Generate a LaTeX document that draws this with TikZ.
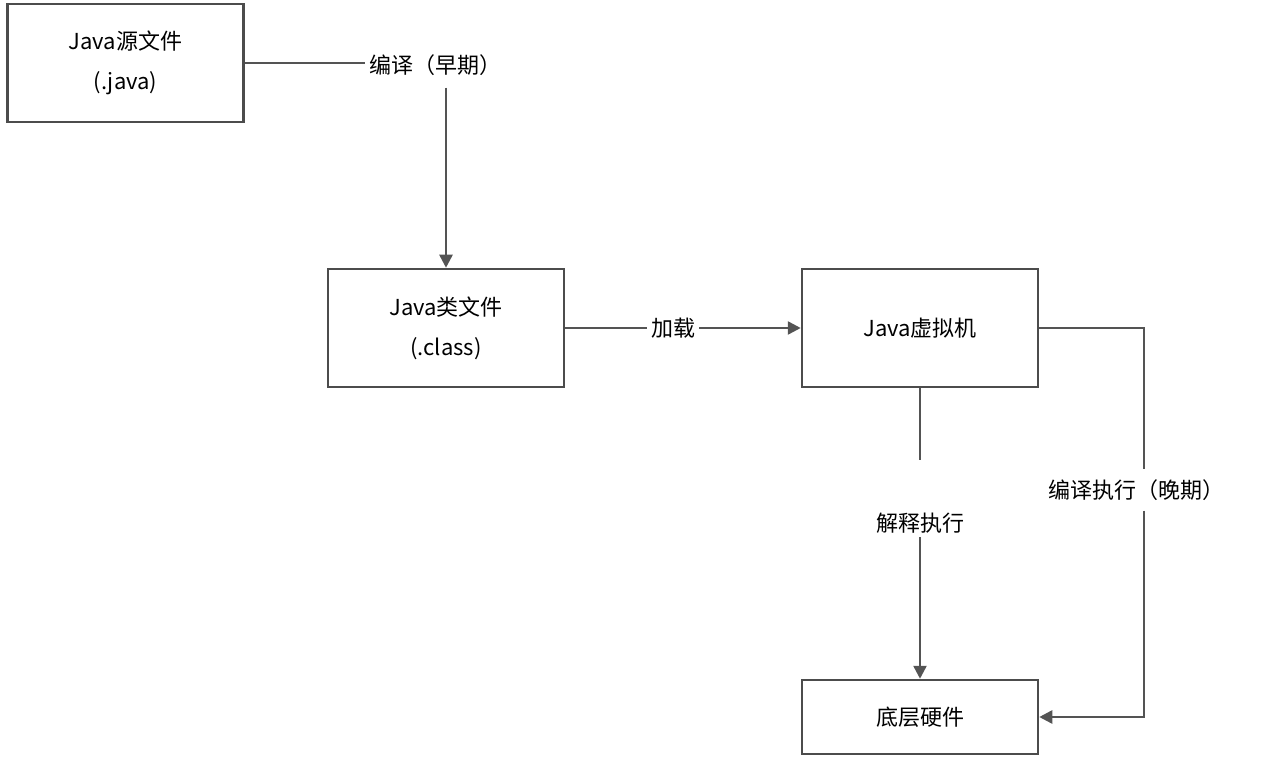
\documentclass[tikz,border=0pt]{standalone}
\usepackage{fontspec}
\setmainfont{Noto Sans CJK SC}
\usetikzlibrary{arrows.meta}
\begin{document}
\begin{tikzpicture}[x=1pt,y=-1pt,
  box/.style={draw=black!70,line width=2.5pt,minimum width=236pt,inner sep=0pt,align=center,font=\fontsize{22}{40}\selectfont},
  lab/.style={inner sep=4pt,font=\fontsize{22}{26}\selectfont},
  con/.style={draw=black!67,line width=2.5pt},
  arr/.style={con,-{Triangle[length=13pt,width=13pt]}}]
\useasboundingbox (0,0) rectangle (1277,759);
\node[box,minimum height=118pt] (src) at (125.5,63) {Java源文件\\(.java)};
\node[box,minimum height=118pt] (cls) at (446,328) {Java类文件\\(.class)};
\node[box,minimum height=118pt] (jvm) at (920,328) {Java虚拟机};
\node[box,minimum height=74pt] (hw) at (920,717) {底层硬件};
\node[lab] (l1) at (435,65) {编译（早期）};
\node[lab] (l2) at (673,328) {加载};
\node[lab] (l3) at (920,523) {解释执行};
\node[lab,inner sep=10pt] (l4) at (1136,490) {编译执行（晚期）};
\coordinate (c1) at (1144,328);
\coordinate (c2) at (1144,717);
\draw[con] (src.east) -- (src.east -| l1.west);
\draw[arr] (l1.south -| cls.north) ++(0,8) -- (cls.north);
\draw[con] (cls.east) -- (l2.west);
\draw[arr] (l2.east) -- (jvm.west);
\draw[con] (jvm.south) -- ++(0,72);
\draw[arr] (l3.south) -- (hw.north);
\draw[con] (jvm.east) -- (c1) -- (l4.north -| c1);
\draw[arr] (l4.south -| c1) -- (c2) -- (hw.east);
\end{tikzpicture}
\end{document}
